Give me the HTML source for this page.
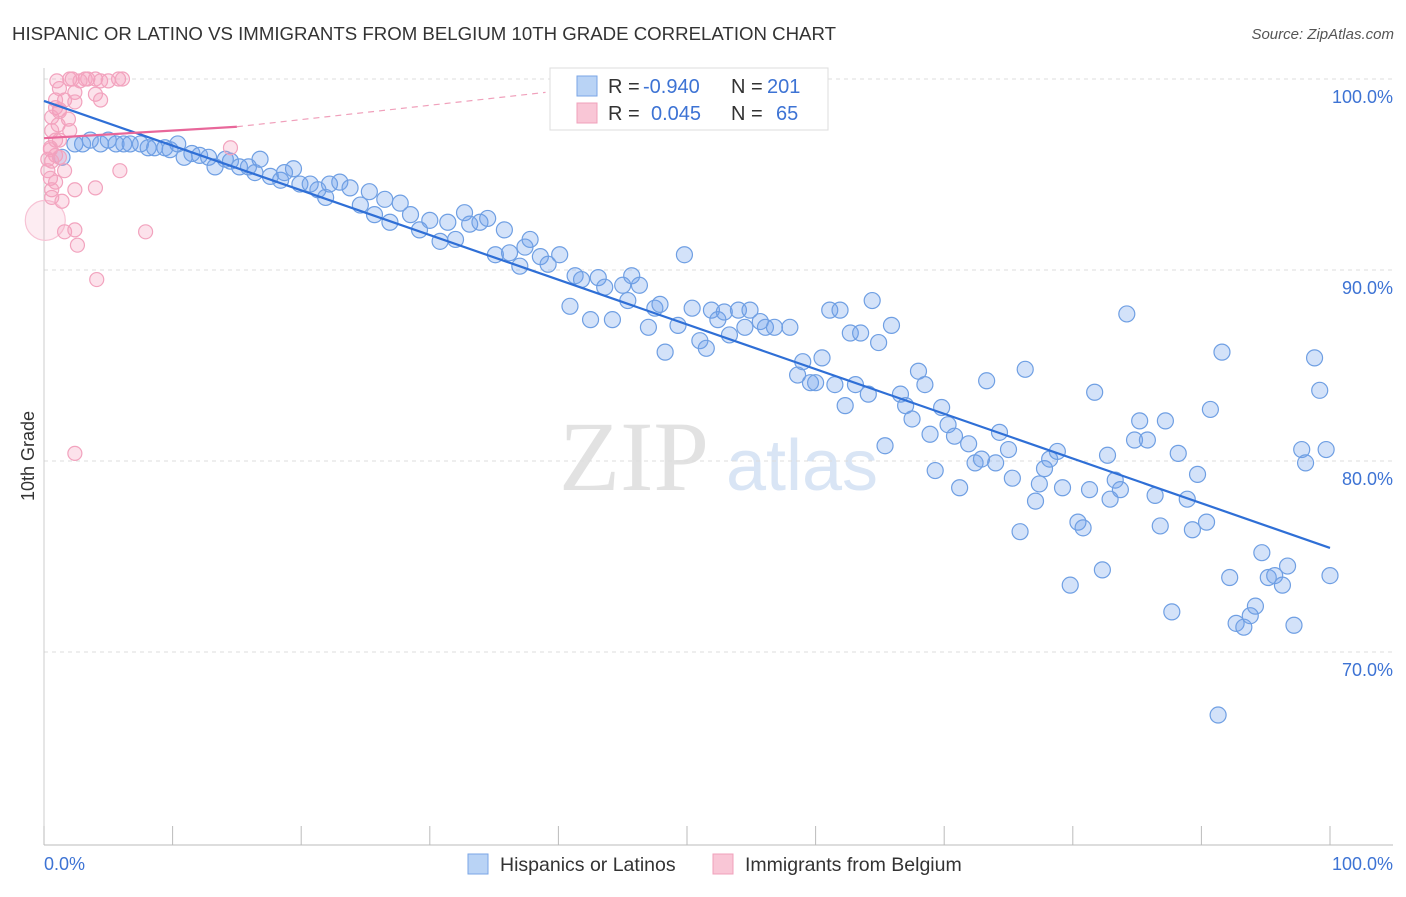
<!DOCTYPE html>
<html><head><meta charset="utf-8">
<style>
body{margin:0;background:#fff;font-family:"Liberation Sans",sans-serif;}
svg text{font-family:"Liberation Sans",sans-serif;}
</style></head>
<body>
<svg id="chart" width="1406" height="892">
<text x="12" y="40" font-size="18" fill="#333" textLength="824" lengthAdjust="spacingAndGlyphs">HISPANIC OR LATINO VS IMMIGRANTS FROM BELGIUM 10TH GRADE CORRELATION CHART</text>
<text x="1394" y="39" font-size="15" fill="#555" font-style="italic" text-anchor="end">Source: ZipAtlas.com</text>
<text x="634" y="490" font-size="100" fill="#e2e2e2" style="font-family:'Liberation Serif',serif" text-anchor="middle">ZIP</text>
<text x="802" y="490" font-size="72" fill="#d9e5f5" text-anchor="middle">atlas</text>
<g id="grid"></g>
<g id="axes"></g>
<g id="marks"></g>
<text transform="translate(34,456) rotate(-90)" font-size="18" fill="#333" text-anchor="middle">10th Grade</text>
<g>
<rect x="550" y="68" width="278" height="62" fill="#fff" stroke="#ddd"/>
<rect x="577" y="76" width="20" height="20" fill="#b9d3f5" stroke="#7aa6e6"/>
<rect x="577" y="103" width="20" height="20" fill="#f9c6d6" stroke="#f0a0bb"/>
<text x="608" y="93" font-size="20" fill="#333">R = <tspan x="643" fill="#3d73d4">-0.940</tspan><tspan x="731" fill="#333">N = </tspan><tspan x="767" fill="#3d73d4">201</tspan></text>
<text x="608" y="120" font-size="20" fill="#333">R = <tspan x="651" fill="#3d73d4">0.045</tspan><tspan x="731" fill="#333">N = </tspan><tspan x="776" fill="#3d73d4">65</tspan></text>
</g>
<g>
<rect x="468" y="854" width="20" height="20" fill="#b9d3f5" stroke="#7aa6e6"/>
<text x="500" y="871" font-size="19.5" fill="#333">Hispanics or Latinos</text>
<rect x="713" y="854" width="20" height="20" fill="#f9c6d6" stroke="#f0a0bb"/>
<text x="745" y="871" font-size="19.5" fill="#333">Immigrants from Belgium</text>
</g>
</svg>
<script>
const yTicks=[100,90,80,70];
const yTickLabels=["100.0%","90.0%","80.0%","70.0%"];
const xTicks=[0,10,20,30,40,50,60,70,80,90,100];
const xEndLabels=["0.0%","100.0%"];
const blueX=[1.4,2.4,3.0,3.6,4.4,5.0,5.6,6.2,6.7,7.5,8.1,8.6,9.4,9.8,10.4,10.9,11.5,12.1,12.8,13.3,14.1,14.5,15.2,15.9,16.4,16.8,17.6,18.4,18.7,19.4,19.9,20.7,21.3,21.9,22.2,23.0,23.8,24.6,25.3,25.7,26.5,26.9,27.7,28.5,29.2,30.0,30.8,31.4,32.0,32.7,33.1,33.9,34.5,35.1,35.8,36.2,37.0,37.4,37.8,38.6,39.2,40.1,40.9,41.3,41.8,42.5,43.1,43.6,44.2,45.0,45.4,45.7,46.3,47.0,47.5,47.9,48.3,49.3,49.8,50.4,51.0,51.5,51.9,52.4,52.9,53.3,54.0,54.5,54.9,55.7,56.1,56.8,58.0,58.6,59.0,59.6,60.0,60.5,61.1,61.5,61.9,62.3,62.7,63.1,63.5,64.1,64.4,64.9,65.4,65.9,66.6,67.0,67.5,68.0,68.5,68.9,69.3,69.8,70.3,70.8,71.2,71.9,72.4,72.9,73.3,74.0,74.3,75.0,75.3,75.9,76.3,77.1,77.4,77.8,78.2,78.8,79.2,79.8,80.4,80.8,81.3,81.7,82.3,82.7,82.9,83.3,83.7,84.2,84.8,85.2,85.8,86.4,86.8,87.2,87.7,88.2,88.9,89.3,89.7,90.4,90.7,91.3,91.6,92.2,92.7,93.3,93.8,94.2,94.7,95.2,95.7,96.3,96.7,97.2,97.8,98.1,98.8,99.2,99.7,100.0];
const blueY=[95.9,96.6,96.6,96.8,96.6,96.8,96.6,96.6,96.6,96.6,96.4,96.4,96.4,96.3,96.6,95.9,96.1,96.0,95.9,95.4,95.8,95.7,95.4,95.4,95.1,95.8,94.9,94.7,95.1,95.3,94.5,94.5,94.2,93.8,94.5,94.6,94.3,93.4,94.1,92.9,93.7,92.5,93.5,92.9,92.1,92.6,91.5,92.5,91.6,93.0,92.4,92.5,92.7,90.8,92.1,90.9,90.2,91.2,91.6,90.7,90.3,90.8,88.1,89.7,89.5,87.4,89.6,89.1,87.4,89.2,88.4,89.7,89.2,87.0,88.0,88.2,85.7,87.1,90.8,88.0,86.3,85.9,87.9,87.4,87.8,86.6,87.9,87.0,87.9,87.3,87.0,87.0,87.0,84.5,85.2,84.1,84.1,85.4,87.9,84.0,87.9,82.9,86.7,84.0,86.7,83.5,88.4,86.2,80.8,87.1,83.5,82.9,82.2,84.7,84.0,81.4,79.5,82.8,81.9,81.3,78.6,80.9,79.9,80.1,84.2,79.9,81.5,80.6,79.1,76.3,84.8,77.9,78.8,79.6,80.1,80.5,78.6,73.5,76.8,76.5,78.5,83.6,74.3,80.3,78.0,79.0,78.5,87.7,81.1,82.1,81.1,78.2,76.6,82.1,72.1,80.4,78.0,76.4,79.3,76.8,82.7,66.7,85.7,73.9,71.5,71.3,71.9,72.4,75.2,73.9,74.0,73.5,74.5,71.4,80.6,79.9,85.4,83.7,80.6,74.0];
const pinkX=[0.1,2.0,2.2,3.2,3.4,4.0,5.8,6.1,1.2,2.4,4.0,4.4,0.9,1.6,2.4,0.9,1.2,0.6,1.1,2.0,0.6,0.9,1.2,0.5,0.9,1.2,0.6,0.3,1.6,5.9,0.5,0.9,0.6,2.4,4.0,0.6,1.4,1.6,2.4,2.6,7.9,4.1,2.4,14.5,1.0,2.8,4.4,5.0,0.5,0.3,1.2,1.9];
const pinkY=[92.6,100,100,100,100,100,100,100,99.5,99.3,99.2,98.9,98.9,98.9,98.8,98.5,98.3,98.0,97.6,97.3,97.3,96.8,96.8,96.4,96.0,95.9,95.7,95.2,95.2,95.2,94.8,94.6,94.2,94.2,94.3,93.8,93.6,92.0,92.1,91.3,92.0,89.5,80.4,96.4,99.9,99.9,99.9,99.9,96.3,95.8,98.4,97.9];
const pinkR=[20,7,7,7,7,7,7,7,7,7,7,7,7,7,7,7,7,7,7,7,7,7,7,7,7,7,7,7,7,7,7,7,7,7,7,7,7,7,7,7,7,7,7,7,7,7,7,7,7,7,7,7];
const blueTrend=[[0,98.85],[100,75.45]];
const pinkTrend=[[0,96.9],[15,97.5],[39,99.3]];

const NS="http://www.w3.org/2000/svg";
function sx(v){return 44+v*12.86;}
function sy(v){return 79+(100-v)*19.1;}
function mk(tag,attrs,parent){const e=document.createElementNS(NS,tag);for(const k in attrs)e.setAttribute(k,attrs[k]);parent.appendChild(e);return e;}
const grid=document.getElementById('grid'),axes=document.getElementById('axes'),marks=document.getElementById('marks');
yTicks.forEach((t,i)=>{
  const l=mk('line',{x1:44,x2:1393,y1:sy(t),y2:sy(t),stroke:'#ddd','stroke-dasharray':'4,4'},grid);
  
  
  const tx=mk('text',{x:1393,y:sy(t)+24,'font-size':18,fill:'#3d73d4','text-anchor':'end'},axes);
  tx.textContent=yTickLabels[i];
  
  
});
const ax=mk('line',{x1:44,x2:1393,y1:845,y2:845,stroke:'#bbb'},axes);


const ay=mk('line',{x1:44,x2:44,y1:68,y2:845,stroke:'#ccc'},axes);


xTicks.forEach(t=>{
  const l=mk('line',{x1:sx(t),x2:sx(t),y1:826,y2:845,stroke:'#bbb'},axes);
  
  
});
const xl0=mk('text',{x:44,y:870,'font-size':18,fill:'#3d73d4'},axes);
xl0.textContent=xEndLabels[0];


const xl1=mk('text',{x:1393,y:870,'font-size':18,fill:'#3d73d4','text-anchor':'end'},axes);
xl1.textContent=xEndLabels[1];



blueX.forEach((x,i)=>{
  const c=mk('circle',{cx:sx(x),cy:sy(blueY[i]),r:8,fill:'rgba(110,160,235,0.3)',stroke:'#6f9fe3','stroke-width':1.2},marks);
  
  
});
pinkX.forEach((x,i)=>{
  const big=pinkR[i]>10;
  const c=mk('circle',{cx:sx(x),cy:sy(pinkY[i]),r:pinkR[i],fill:big?'rgba(245,160,190,0.2)':'rgba(245,160,190,0.3)',stroke:big?'#f7c3d5':'#f2a3be','stroke-width':1.2},marks);
  
  
});
const bt=mk('line',{x1:sx(blueTrend[0][0]),y1:sy(blueTrend[0][1]),x2:sx(blueTrend[1][0]),y2:sy(blueTrend[1][1]),stroke:'#2f6fd6','stroke-width':2.2},marks);


const pt=mk('line',{x1:sx(pinkTrend[0][0]),y1:sy(pinkTrend[0][1]),x2:sx(pinkTrend[1][0]),y2:sy(pinkTrend[1][1]),stroke:'#e8679a','stroke-width':2.2},marks);


const pd=mk('line',{x1:sx(pinkTrend[1][0]),y1:sy(pinkTrend[1][1]),x2:sx(pinkTrend[2][0]),y2:sy(pinkTrend[2][1]),stroke:'#f0a0bb','stroke-width':1.2,'stroke-dasharray':'6,5'},marks);


</script>
</body></html>
